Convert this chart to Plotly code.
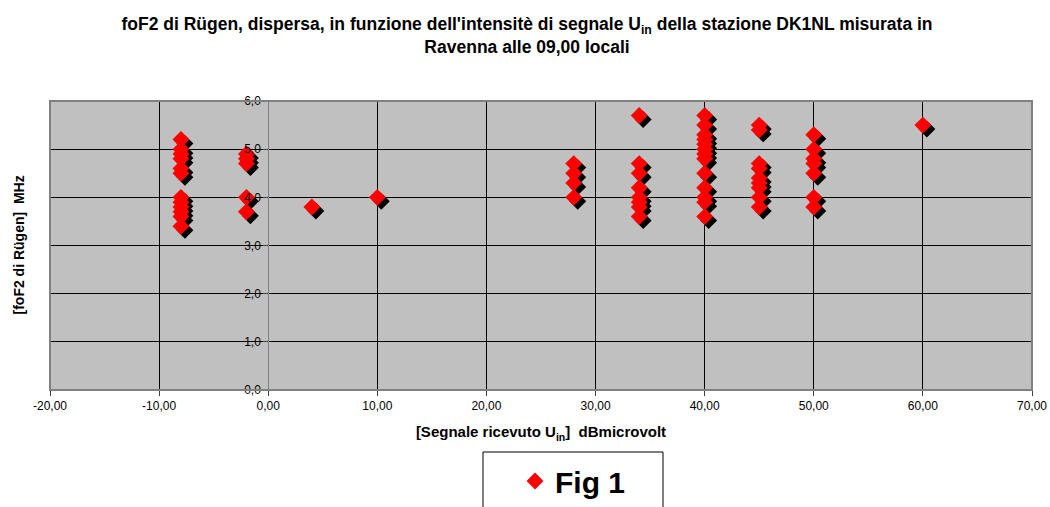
import plotly.graph_objects as go

# ---- data ----
signal = [-8, -8, -8, -8, -8, -8, -8, -8, -8, -8, -8, -8,
          -2, -2, -2, -2, -2,
          4,
          10,
          28, 28, 28, 28,
          34, 34, 34, 34, 34, 34, 34, 34,
          40, 40, 40, 40, 40, 40, 40, 40, 40, 40, 40, 40, 40,
          45, 45, 45, 45, 45, 45, 45, 45, 45,
          50, 50, 50, 50, 50, 50, 50,
          60]
fof2 = [5.2, 5.0, 4.9, 4.8, 4.6, 4.5, 4.0, 3.9, 3.8, 3.7, 3.6, 3.4,
        4.9, 4.8, 4.7, 4.0, 3.7,
        3.8,
        4.0,
        4.7, 4.5, 4.3, 4.0,
        5.7, 4.7, 4.5, 4.2, 4.0, 3.9, 3.8, 3.6,
        5.7, 5.5, 5.3, 5.2, 5.1, 5.0, 4.9, 4.8, 4.5, 4.2, 4.0, 3.9, 3.6,
        5.5, 5.4, 4.7, 4.6, 4.4, 4.3, 4.2, 4.0, 3.8,
        5.3, 5.0, 4.8, 4.7, 4.5, 4.0, 3.8,
        5.5]
x_ticks = [-20, -10, 0, 10, 20, 30, 40, 50, 60, 70]
y_ticks = [0, 1, 2, 3, 4, 5, 6]
x_ticktext = [f"{v:.2f}".replace(".", ",") for v in x_ticks]
y_ticktext = [f"{v:.1f}".replace(".", ",") for v in y_ticks]
series_name = "Fig 1"

# ---- geometry (body margin removed via post_script) ----
W, H = 1050, 507
ml, mt = 50, 101
pw, ph = 982, 289
mr, mb = W - ml - pw, H - mt - ph
x_range = [-20, 70]
y_range = [0, 6]
shadow_px = 4
dxu = shadow_px * (x_range[1] - x_range[0]) / pw
dyu = shadow_px * (y_range[1] - y_range[0]) / ph


def px_x(p):  # page pixel -> paper x
    return (p - ml) / pw


def px_y(p):  # page pixel -> paper y
    return (mt + ph - p) / ph


FONT = "Liberation Sans, Arial, sans-serif"

fig = go.Figure()
# base subplot (axes, grid)
fig.add_trace(go.Scatter(x=[], y=[], mode="markers", showlegend=False, hoverinfo="skip"))
# shadow
fig.add_trace(go.Scatter(
    x=signal, y=fof2, mode="markers", xaxis="x2", yaxis="y2",
    marker=dict(symbol="diamond", size=13, color="black"),
    showlegend=False, hoverinfo="skip"))
# main markers
fig.add_trace(go.Scatter(
    x=signal, y=fof2, mode="markers", xaxis="x3", yaxis="y3",
    marker=dict(symbol="diamond", size=13, color="#FF0000"),
    name="<b>" + series_name + "</b>"))

fig.update_layout(
    width=W, height=H,
    margin=dict(l=ml, r=mr, t=mt, b=mb, autoexpand=False),
    paper_bgcolor="white", plot_bgcolor="#C0C0C0",
    font=dict(family=FONT, color="black", size=12),
    title=dict(
        text="<b>foF2 di Rügen, dispersa, in funzione dell'intensitè di segnale U<sub>in</sub> "
             "della stazione DK1NL misurata in<br>Ravenna alle 09,00 locali</b>",
        x=527 / W, xref="container", xanchor="center",
        y=1 - 30 / H, yref="container", yanchor="middle",
        font=dict(family=FONT, size=17.5, color="black")),
    xaxis=dict(range=x_range, tickvals=x_ticks, ticktext=x_ticktext,
               showgrid=True, gridcolor="black", gridwidth=1, zeroline=False,
               ticks="outside", ticklen=5, tickcolor="#404040",
               showline=False, ticklabeloverflow="allow",
               tickfont=dict(size=12),
               title=dict(text="<b>[Segnale ricevuto U<sub>in</sub>]  dBmicrovolt</b>",
                          font=dict(size=15), standoff=14)),
    yaxis=dict(range=y_range, tickvals=y_ticks, ticktext=y_ticktext,
               anchor="free", position=(0 - x_range[0]) / (x_range[1] - x_range[0]),
               showgrid=True, gridcolor="black", gridwidth=1, zeroline=False,
               showline=True, linecolor="#808080", linewidth=1,
               ticks="outside", ticklen=5, tickcolor="#404040",
               tickfont=dict(size=12)),
    xaxis2=dict(overlaying="x", anchor="y2", range=[x_range[0] - dxu, x_range[1] - dxu], visible=False),
    yaxis2=dict(overlaying="y", anchor="x2", range=[y_range[0] + dyu, y_range[1] + dyu], visible=False),
    xaxis3=dict(overlaying="x", anchor="y3", range=x_range, visible=False),
    yaxis3=dict(overlaying="y", anchor="x3", range=y_range, visible=False),
    showlegend=True,
    legend=dict(x=px_x(515), xanchor="left", y=px_y(455), yanchor="top",
                bgcolor="rgba(0,0,0,0)", borderwidth=0,
                font=dict(family=FONT, size=30, color="black")),
    shapes=[dict(type="rect", xref="paper", yref="paper", x0=0, x1=1, y0=0, y1=1,
                 line=dict(color="#808080", width=2), layer="above"),
            dict(type="rect", xref="paper", yref="paper",
                 x0=px_x(483), x1=px_x(663), y0=px_y(452), y1=px_y(520),
                 line=dict(color="black", width=1), fillcolor="white", layer="below")],
    annotations=[dict(text="<b>[foF2 di Rügen]  MHz</b>", xref="paper", yref="paper",
                      x=px_x(18), xanchor="center", y=0.5, yanchor="middle",
                      textangle=-90, showarrow=False,
                      font=dict(family=FONT, size=14, color="black"))],
)

fig.write_html("out.html",
               config={"displayModeBar": False},
               post_script="document.body.style.margin='0px';"
                           "document.body.style.overflow='hidden';")
